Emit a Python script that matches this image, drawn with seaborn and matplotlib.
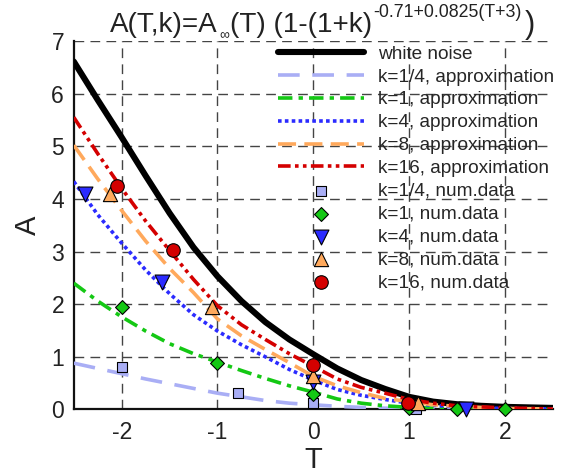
import matplotlib
matplotlib.use("Agg")
import pandas as pd
import matplotlib.pyplot as plt
import seaborn as sns
from matplotlib.ticker import MultipleLocator

# curve values at T = -2.5 ... 2.5 (step 0.25)
T_grid = [-2.5, -2.25, -2.0, -1.75, -1.5, -1.25, -1.0, -0.75, -0.5, -0.25, 0.0,
          0.25, 0.5, 0.75, 1.0, 1.25, 1.5, 1.75, 2.0, 2.25, 2.5]
white_noise = [6.61, 5.88, 5.17, 4.44, 3.73, 3.08, 2.53, 2.06, 1.66, 1.33, 1.05,
               0.78, 0.56, 0.39, 0.24, 0.15, 0.10, 0.07, 0.05, 0.04, 0.03]
approx_k025 = [0.88, 0.78, 0.68, 0.58, 0.49, 0.40, 0.31, 0.24, 0.17, 0.12, 0.09,
               0.06, 0.04, 0.025, 0.015, 0.01, 0.006, 0.004, 0.003, 0.002, 0.001]
approx_k1 = [2.40, 2.06, 1.76, 1.49, 1.25, 1.06, 0.90, 0.74, 0.59, 0.45, 0.33,
             0.20, 0.12, 0.07, 0.04, 0.025, 0.015, 0.01, 0.005, 0.003, 0.002]
approx_k4 = [4.33, 3.70, 3.16, 2.65, 2.20, 1.80, 1.49, 1.23, 1.00, 0.76, 0.56,
             0.38, 0.27, 0.19, 0.12, 0.08, 0.05, 0.03, 0.02, 0.015, 0.01]
approx_k8 = [5.02, 4.38, 3.78, 3.20, 2.68, 2.22, 1.72, 1.40, 1.14, 0.89, 0.63,
             0.45, 0.32, 0.21, 0.15, 0.09, 0.06, 0.04, 0.02, 0.015, 0.01]
approx_k16 = [5.55, 4.86, 4.20, 3.58, 3.02, 2.47, 1.97, 1.61, 1.33, 1.06, 0.82,
              0.58, 0.42, 0.31, 0.19, 0.12, 0.07, 0.05, 0.03, 0.02, 0.01]

# numerical data points
num_k025_T = [-2.0, -0.79, 0.0, 1.07]
num_k025_A = [0.80, 0.32, 0.13, 0.01]
num_k1_T = [-2.0, -1.0, 0.0, 1.0, 1.5, 2.0]
num_k1_A = [1.95, 0.89, 0.29, 0.02, 0.0, 0.0]
num_k4_T = [-2.38, -1.58, 0.0, 1.59]
num_k4_A = [4.09, 2.43, 0.53, 0.0]
num_k8_T = [-2.12, -1.06, 0.0, 1.09]
num_k8_A = [4.09, 1.95, 0.64, 0.12]
num_k16_T = [-2.05, -1.46, 0.0, 0.99]
num_k16_A = [4.25, 3.03, 0.85, 0.13]

x_ticks = [-2, -1, 0, 1, 2]
y_ticks = [0, 1, 2, 3, 4, 5, 6, 7]

sns.set_style("white")
plt.rcParams.update({
    "font.family": ["Liberation Sans", "DejaVu Sans"],
    "axes.unicode_minus": False,
})

c_lb = "#a9aef5"
c_gr = "#14c814"
c_bl = "#2b2bff"
c_or = "#ffa95c"
c_rd = "#d40000"
c_txt = "#222222"

W, H = 576, 475
fig = plt.figure(figsize=(W / 100, H / 100), dpi=100)
ax = fig.add_axes([0.1281, 0.1379, 0.8316, 0.7758])

lw = 2.6
curves = [
    (white_noise, "black", 4.4, "-", "white noise"),
    (approx_k025, c_lb, lw, (0, (6, 3.5)), "k=1/4, approximation"),
    (approx_k1, c_gr, lw, (0, (4, 1.7, 1.2, 1.7)), "k=1, approximation"),
    (approx_k4, c_bl, lw, (0, (1, 0.9)), "k=4, approximation"),
    (approx_k8, c_or, lw, (0, (5, 2.3)), "k=8, approximation"),
    (approx_k16, c_rd, lw, (0, (3.5, 1.2, 1, 1.2, 1, 1.2)), "k=16, approximation"),
]
for vals, col, w, ls, lab in curves:
    df = pd.DataFrame({"T": T_grid, "A": vals})
    sns.lineplot(data=df, x="T", y="A", color=col, lw=w, linestyle=ls,
                 label=lab, ax=ax, zorder=3)

points = [
    (num_k025_T, num_k025_A, c_lb, "s", 45, "k=1/4, num.data"),
    (num_k1_T, num_k1_A, c_gr, "D", 50, "k=1, num.data"),
    (num_k4_T, num_k4_A, c_bl, "v", 115, "k=4, num.data"),
    (num_k8_T, num_k8_A, c_or, "^", 105, "k=8, num.data"),
    (num_k16_T, num_k16_A, c_rd, "o", 95, "k=16, num.data"),
]
for tt, aa, col, mk, sz, lab in points:
    sns.scatterplot(x=tt, y=aa, color=col, marker=mk, s=sz, edgecolor="black",
                    linewidth=0.8, label=lab, ax=ax, zorder=4, clip_on=False)

ax.set_xlim(-2.5, 2.5)
ax.set_ylim(0, 7)
ax.set_xticks(x_ticks)
ax.set_yticks(y_ticks)
ax.set_xticklabels([str(v) for v in x_ticks])
ax.set_yticklabels([str(v) for v in y_ticks])
ax.xaxis.set_minor_locator(MultipleLocator(0.2))
ax.yaxis.set_minor_locator(MultipleLocator(0.2))
ax.tick_params(which="major", direction="in", length=8, width=1.2,
               labelsize=16.5, colors=c_txt)
ax.tick_params(which="minor", direction="in", length=4, width=1.0, colors=c_txt)
ax.tick_params(axis="x", which="major", pad=8)
ax.tick_params(axis="y", which="major", pad=7)

ax.grid(True, which="major", color="#444444", linestyle=(0, (7, 4.5)), linewidth=1.0)
ax.set_axisbelow(True)

for s in ["top", "right"]:
    ax.spines[s].set_visible(False)
for s in ["left", "bottom"]:
    ax.spines[s].set_color("#111111")
    ax.spines[s].set_linewidth(1.6)

ax.set_xlabel("T", fontsize=21, labelpad=2, color=c_txt)
ax.set_ylabel("A", fontsize=21, labelpad=7, color=c_txt)

ax.legend(loc="upper left", bbox_to_anchor=(278 / W, 1 - 45.5 / H),
          bbox_transform=fig.transFigure, frameon=False, fontsize=13.7,
          handlelength=4.5, handletextpad=0.78, labelspacing=0.29,
          borderpad=0, borderaxespad=0, scatterpoints=1)

# title built from pieces: main text, subscript, superscript, closing bracket
renderer = fig.canvas.get_renderer()
title_parts = [
    ("A(T,k)=A", 20, 31.7, 2),
    ("\u221e", 10, 39.5, 1),
    ("(T) (1-(1+k)", 20, 31.7, 1),
    ("-0.71+0.0825(T+3)", 12.8, 17.0, 3),
    (")", 22, 32.5, 0),
]
x_px = 110
for txt, fs, base, gap in title_parts:
    t = fig.text(x_px / W, 1 - base / H, txt, fontsize=fs, ha="left",
                 va="baseline", color=c_txt)
    bb = t.get_window_extent(renderer)
    x_px = bb.x1 + gap

fig.savefig("out.png", dpi=100)
